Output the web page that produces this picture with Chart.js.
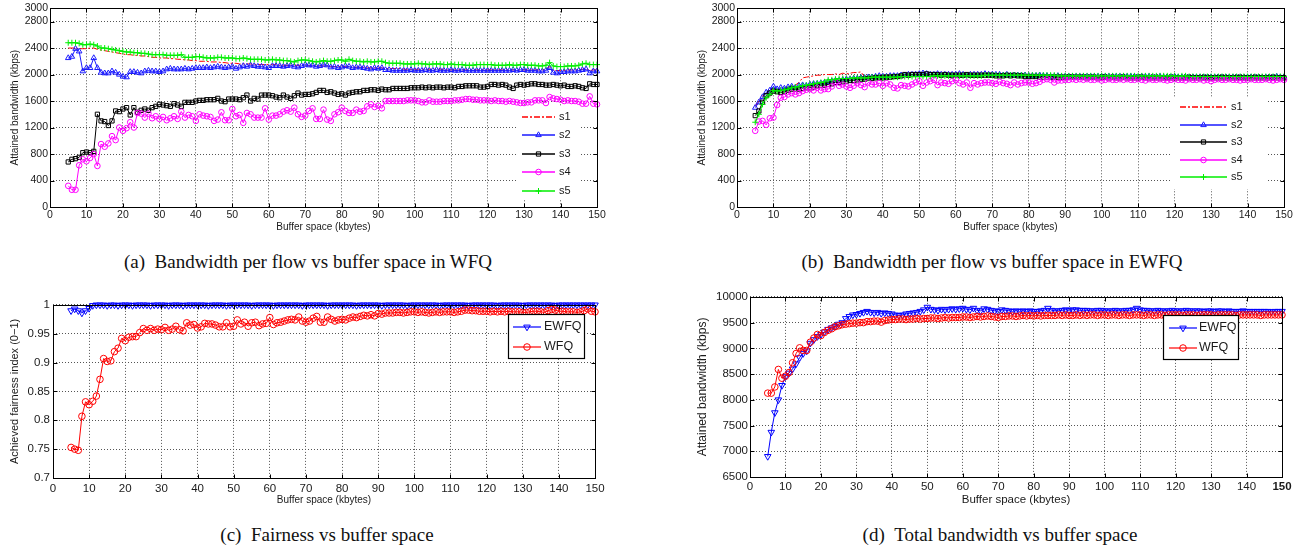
<!DOCTYPE html>
<html><head><meta charset="utf-8">
<script src="https://cdn.jsdelivr.net/npm/chart.js@4.4.1/dist/chart.umd.min.js"></script>
<style>
html,body{margin:0;padding:0;background:#fff;}
body{width:1302px;height:545px;position:relative;overflow:hidden;}
canvas{position:absolute;}
.cap{position:absolute;font-family:'Liberation Serif','Times New Roman',serif;font-size:19px;color:#111;white-space:nowrap;transform:translateX(-50%);line-height:1;}
</style></head><body>
<canvas id="ca" width="610" height="235" style="left:0px;top:0px;width:610px;height:235px"></canvas>
<canvas id="cb" width="610" height="235" style="left:687px;top:0px;width:610px;height:235px"></canvas>
<canvas id="cc" width="610" height="211" style="left:0px;top:295px;width:610px;height:211px"></canvas>
<canvas id="cd" width="612" height="220" style="left:690px;top:288px;width:612px;height:220px"></canvas>
<div class="cap" style="left:308px;top:252px">(a)&ensp;Bandwidth per flow vs buffer space in WFQ</div>
<div class="cap" style="left:992px;top:252px">(b)&ensp;Bandwidth per flow vs buffer space in EWFQ</div>
<div class="cap" style="left:327px;top:525px">(c)&ensp;Fairness vs buffer space</div>
<div class="cap" style="left:1000px;top:525px">(d)&ensp;Total bandwidth vs buffer space</div>
<script>
// ---------- DATA ----------
const bufferSpace = [5,6,7,8,9,10,11,12,13,14,15,16,17,18,19,20,21,22,23,24,25,26,27,28,29,30,31,32,33,34,35,36,37,38,39,40,41,42,43,44,45,46,47,48,49,50,51,52,53,54,55,56,57,58,59,60,61,62,63,64,65,66,67,68,69,70,71,72,73,74,75,76,77,78,79,80,81,82,83,84,85,86,87,88,89,90,91,92,93,94,95,96,97,98,99,100,101,102,103,104,105,106,107,108,109,110,111,112,113,114,115,116,117,118,119,120,121,122,123,124,125,126,127,128,129,130,131,132,133,134,135,136,137,138,139,140,141,142,143,144,145,146,147,148,149,150];
const xTicks = [0,10,20,30,40,50,60,70,80,90,100,110,120,130,140,150];
const yTicksFlow = [0,400,800,1200,1600,2000,2400,2800,3000];
const yTicksFair = [0.7,0.75,0.8,0.85,0.9,0.95,1];
const yTicksFairLabels = ['0.7','0.75','0.8','0.85','0.9','0.95','1'];
const yTicksTotal = [6500,7000,7500,8000,8500,9000,9500,10000];

// (a) WFQ per-flow bandwidth (kbps)
const wfqS1 = [2400,2400,2400,2390,2390,2390,2400,2400,2380,2370,
2360,2350,2340,2330,2320,2310,2300,2300,2290,2290,
2280,2280,2270,2260,2260,2250,2250,2250,2240,2240,
2230,2230,2220,2220,2210,2210,2200,2200,2200,2190,
2190,2190,2180,2180,2170,2170,2170,2160,2160,2160,
2160,2150,2150,2150,2150,2150,2150,2150,2140,2140,
2140,2140,2140,2140,2140,2140,2130,2130,2130,2130,
2130,2130,2120,2120,2120,2120,2120,2110,2110,2110,
2110,2110,2100,2100,2100,2100,2100,2090,2090,2090,
2090,2090,2080,2080,2080,2080,2080,2080,2080,2080,
2080,2080,2080,2080,2070,2070,2070,2070,2070,2070,
2070,2070,2070,2070,2070,2070,2070,2070,2070,2070,
2070,2070,2070,2070,2070,2070,2070,2070,2070,2070,
2070,2080,2120,2060,2060,2060,2060,2070,2070,2070,
2070,2080,2090,2060,2070,2070];
const wfqS2 = [2250,2270,2390,2350,2050,2100,2100,2250,2100,2030,
2020,2020,2050,2030,2000,1970,1960,2040,2040,2030,
2020,2050,2060,2050,2050,2040,2050,2080,2090,2080,
2080,2080,2090,2080,2090,2100,2100,2100,2110,2100,
2110,2120,2110,2100,2110,2120,2090,2110,2130,2120,
2140,2130,2120,2120,2110,2100,2130,2130,2130,2120,
2130,2140,2120,2110,2130,2150,2140,2140,2120,2130,
2150,2140,2110,2120,2100,2110,2130,2120,2100,2110,
2110,2100,2090,2080,2100,2090,2100,2070,2070,2060,
2060,2060,2060,2060,2070,2060,2060,2060,2070,2060,
2060,2070,2060,2060,2060,2070,2060,2060,2070,2060,
2060,2060,2060,2060,2060,2060,2060,2060,2060,2060,
2060,2060,2070,2060,2070,2070,2060,2060,2060,2050,
2050,2060,2100,2030,2020,2040,2040,2050,2050,2050,
2060,2070,2080,2020,2050,2050];
const wfqS3 = [680,720,730,750,820,830,820,840,1400,1300,
1290,1230,1300,1450,1440,1480,1500,1390,1500,1430,
1460,1480,1460,1500,1520,1550,1540,1530,1520,1560,
1540,1520,1580,1580,1580,1600,1610,1610,1620,1620,
1620,1640,1600,1590,1630,1630,1630,1620,1650,1690,
1600,1640,1630,1690,1690,1690,1680,1660,1650,1690,
1660,1640,1680,1720,1690,1700,1700,1710,1730,1760,
1760,1730,1740,1720,1700,1710,1690,1720,1730,1740,
1740,1760,1760,1770,1770,1760,1780,1770,1770,1790,
1790,1790,1790,1790,1800,1800,1800,1810,1800,1810,
1800,1810,1810,1800,1810,1810,1800,1820,1820,1830,
1830,1830,1830,1810,1810,1820,1850,1850,1840,1850,
1840,1810,1790,1840,1850,1840,1850,1860,1860,1850,
1850,1840,1840,1850,1840,1830,1840,1820,1820,1830,
1820,1800,1790,1860,1850,1850];
const wfqS4 = [320,260,260,630,720,690,740,800,620,950,
910,960,1070,1010,1200,1150,1190,1280,1200,1420,
1410,1350,1410,1340,1370,1330,1360,1310,1340,1370,
1330,1440,1350,1390,1370,1300,1400,1380,1370,1360,
1300,1320,1430,1310,1310,1480,1370,1390,1270,1420,
1400,1350,1350,1350,1490,1320,1380,1380,1400,1440,
1460,1440,1500,1400,1360,1380,1450,1490,1330,1330,
1470,1320,1300,1400,1430,1500,1450,1420,1420,1470,
1440,1450,1520,1550,1510,1530,1490,1600,1600,1600,
1600,1600,1600,1610,1610,1610,1600,1580,1580,1610,
1590,1590,1590,1600,1600,1600,1610,1610,1620,1630,
1630,1620,1620,1610,1610,1610,1600,1610,1600,1600,
1590,1600,1590,1580,1570,1570,1580,1580,1610,1610,
1610,1570,1660,1640,1630,1620,1600,1610,1600,1600,
1590,1560,1560,1670,1560,1550];
const wfqS5 = [2480,2480,2480,2470,2450,2450,2460,2450,2430,2400,
2400,2390,2380,2370,2360,2350,2340,2340,2330,2330,
2320,2320,2310,2300,2300,2300,2300,2290,2290,2290,
2290,2300,2260,2260,2260,2270,2270,2260,2250,2250,
2250,2260,2260,2250,2250,2250,2240,2240,2250,2240,
2230,2230,2230,2230,2220,2220,2230,2220,2220,2210,
2210,2200,2190,2210,2220,2220,2210,2200,2190,2200,
2210,2200,2200,2210,2220,2220,2200,2230,2210,2200,
2200,2190,2200,2190,2190,2200,2200,2180,2170,2170,
2170,2170,2160,2160,2160,2160,2170,2160,2160,2150,
2160,2160,2160,2150,2150,2160,2150,2150,2150,2140,
2140,2140,2150,2150,2150,2150,2150,2140,2140,2140,
2140,2150,2140,2140,2150,2150,2140,2140,2140,2130,
2130,2140,2180,2130,2120,2120,2120,2130,2130,2130,
2140,2160,2170,2150,2150,2150];

// (b) EWFQ per-flow bandwidth (kbps)
const ewfqS1 = [1520,1600,1680,1720,1760,1790,1770,1790,1790,1810,
1830,1840,1880,1950,1960,1970,1980,1990,1990,2000,
2000,2000,2010,2000,2020,2010,2020,2030,2030,2040,
1960,1970,1980,1980,1990,1990,1990,2000,1990,2000,
2000,2000,2000,2000,2010,2010,2000,2000,2000,2000,
2000,2000,2000,1990,2000,2000,1990,1990,2000,1990,
1990,1990,1990,1990,1990,1990,1990,1990,1990,1990,
1990,1990,1990,1980,1980,1980,1980,1980,1980,1980,
1980,1980,1980,1980,1980,1980,1980,1980,1980,1980,
1980,1980,1980,1970,1970,1970,1970,1970,1970,1970,
1970,1970,1970,1970,1970,1970,1970,1970,1970,1970,
1970,1970,1970,1970,1970,1970,1970,1970,1970,1970,
1960,1970,1960,1970,1960,1960,1960,1960,1970,1960,
1960,1960,1960,1960,1960,1960,1960,1960,1960,1960,
1960,1960,1960,1970,1960,1960];
const ewfqS2 = [1500,1580,1660,1730,1760,1820,1780,1800,1790,1810,
1820,1800,1830,1840,1830,1850,1860,1860,1870,1880,
1890,1900,1910,1910,1920,1930,1930,1940,1940,1950,
1950,1960,1960,1970,1980,1970,1970,1980,1980,1980,
1990,1990,2000,2000,2000,2010,2020,2010,2000,2000,
2010,2000,2000,2000,2000,2000,2010,2000,1990,2000,
2000,2000,2000,2010,2000,2000,2000,2000,1990,2000,
1990,1990,1990,1990,1990,1980,1980,1980,1990,1980,
1980,1970,1970,1980,1970,1970,1970,1970,1970,1970,
1970,1970,1970,1970,1970,1970,1970,1970,1970,1970,
1970,1970,1970,1970,1970,1960,1970,1970,1970,1960,
1960,1970,1960,1960,1960,1970,1960,1960,1960,1960,
1960,1960,1960,1960,1960,1960,1960,1960,1960,1960,
1960,1960,1960,1960,1950,1960,1960,1960,1960,1950,
1960,1960,1960,1970,1960,1960];
const ewfqS3 = [1380,1450,1580,1680,1720,1750,1740,1730,1740,1760,
1780,1780,1780,1790,1800,1800,1810,1830,1840,1840,
1850,1860,1880,1880,1890,1900,1910,1910,1920,1930,
1930,1940,1940,1950,1950,1950,1960,1960,1970,1970,
1980,2000,1990,2000,2000,2000,2000,2010,2000,2000,
2000,1990,2000,1990,1990,1990,1990,1990,2000,1990,
1990,1990,1990,1990,1990,1990,1980,1980,1980,1990,
1980,1990,1980,1980,1970,1970,1970,1970,1960,1960,
1960,1960,1960,1960,1960,1960,1960,1960,1960,1960,
1960,1950,1960,1960,1950,1960,1960,1950,1960,1950,
1950,1960,1950,1950,1950,1950,1960,1950,1950,1950,
1950,1950,1950,1950,1950,1950,1950,1950,1950,1950,
1950,1950,1950,1950,1950,1950,1950,1950,1950,1950,
1950,1950,1950,1950,1950,1950,1950,1950,1950,1950,
1950,1950,1950,1950,1950,1950];
const ewfqS4 = [1150,1290,1300,1240,1340,1350,1540,1650,1660,1700,
1720,1700,1720,1750,1770,1780,1760,1800,1760,1780,
1780,1820,1880,1830,1850,1820,1800,1830,1870,1840,
1810,1880,1850,1850,1870,1830,1870,1850,1800,1790,
1840,1830,1820,1850,1880,1900,1830,1880,1900,1920,
1840,1880,1870,1860,1900,1920,1870,1850,1880,1800,
1870,1850,1870,1880,1880,1870,1860,1890,1870,1860,
1840,1880,1850,1870,1880,1880,1860,1870,1890,1920,
1930,1920,1880,1910,1910,1920,1920,1930,1920,1930,
1920,1930,1920,1920,1930,1910,1920,1930,1920,1920,
1930,1920,1930,1920,1920,1930,1920,1910,1930,1920,
1920,1930,1920,1910,1920,1930,1920,1920,1910,1930,
1920,1920,1930,1910,1920,1900,1920,1930,1920,1920,
1930,1920,1920,1910,1920,1920,1930,1920,1920,1920,
1930,1920,1910,1920,1930,1920];
const ewfqS5 = [1280,1400,1550,1650,1700,1760,1750,1760,1770,1780,
1800,1810,1820,1830,1840,1850,1860,1870,1880,1890,
1920,1920,1930,1940,1940,1940,1940,1950,1950,1950,
1950,1950,1960,1960,1960,1960,1960,1960,1960,1960,
1970,1970,1970,1970,1970,1970,1970,1970,1970,1980,
1980,1980,1980,1980,1980,1980,1980,1980,1980,1980,
1980,1980,1980,1990,1990,1990,1990,1990,1990,1990,
1990,1990,1990,1990,1990,1990,1990,1990,1990,1990,
1990,1990,1990,1980,1980,1980,1980,1980,1980,1980,
1980,1980,1980,1980,1980,1980,1980,1980,1980,1980,
1980,1980,1980,1980,1980,1980,1980,1980,1980,1980,
1980,1980,1980,1980,1980,1980,1970,1980,1980,1970,
1970,1970,1970,1970,1970,1970,1970,1970,1970,1970,
1970,1970,1970,1970,1970,1970,1970,1970,1970,1970,
1970,1970,1970,1970,1970,1970];

// (c) fairness index
const fairEWFQ = [0.990,0.993,0.990,0.986,0.990,0.994,0.999,1,1,1,
0.999,1,1,0.999,1,1,1,0.999,1,1,
1,1,0.999,1,1,1,1,0.999,1,1,
1,0.999,1,1,1,1,1,1,0.999,1,
1,1,1,0.999,1,1,1,1,1,1,
0.999,1,1,1,1,1,0.999,1,1,1,
1,1,1,1,0.999,1,1,1,1,1,
1,0.999,1,1,1,1,1,1,1,0.999,
1,1,1,1,1,1,0.999,1,1,1,
1,1,1,0.999,1,1,1,1,1,1,
1,1,0.999,1,1,1,1,1,1,1,
0.999,1,1,1,1,1,1,1,0.999,1,
1,1,1,1,1,0.999,1,1,1,1,
1,1,1,1,0.999,1,1,1,1,1,
1,1,1,1,1,1];
const fairWFQ = [0.753,0.750,0.748,0.807,0.832,0.827,0.833,0.842,0.871,0.907,
0.902,0.903,0.919,0.925,0.942,0.938,0.944,0.945,0.945,0.952,
0.959,0.956,0.959,0.956,0.958,0.957,0.961,0.956,0.958,0.963,
0.957,0.955,0.969,0.965,0.966,0.960,0.962,0.968,0.967,0.967,
0.965,0.962,0.962,0.969,0.962,0.963,0.974,0.967,0.970,0.963,
0.969,0.970,0.964,0.967,0.968,0.978,0.966,0.969,0.970,0.972,
0.974,0.975,0.974,0.979,0.972,0.970,0.972,0.977,0.980,0.970,
0.970,0.979,0.975,0.972,0.974,0.975,0.974,0.977,0.979,0.978,
0.980,0.982,0.981,0.983,0.981,0.985,0.984,0.986,0.986,0.986,
0.987,0.987,0.986,0.987,0.988,0.988,0.987,0.988,0.987,0.986,
0.987,0.988,0.987,0.988,0.988,0.988,0.987,0.988,0.989,0.991,
0.991,0.990,0.990,0.989,0.989,0.989,0.988,0.989,0.988,0.989,
0.988,0.989,0.988,0.988,0.988,0.987,0.987,0.988,0.989,0.989,
0.988,0.987,0.990,0.992,0.991,0.989,0.989,0.988,0.988,0.988,
0.987,0.988,0.990,0.993,0.989,0.988];

// (d) total bandwidth (kbps)
const totalEWFQ = [6900,7370,7750,8000,8280,8450,8520,8600,8700,8820,
8900,8950,9100,9170,9230,9270,9320,9370,9400,9430,
9470,9500,9580,9620,9650,9660,9680,9700,9720,9700,
9690,9700,9680,9690,9680,9670,9650,9640,9650,9670,
9680,9690,9700,9720,9750,9800,9760,9750,9740,9760,
9750,9760,9770,9760,9770,9780,9760,9750,9780,9740,
9730,9770,9760,9740,9730,9720,9750,9740,9730,9720,
9730,9720,9730,9720,9730,9720,9720,9730,9740,9780,
9740,9730,9730,9740,9750,9740,9750,9750,9740,9740,
9740,9730,9730,9740,9740,9730,9730,9730,9740,9730,
9730,9740,9740,9750,9780,9750,9740,9740,9730,9730,
9740,9730,9730,9730,9740,9730,9730,9730,9740,9730,
9730,9730,9730,9720,9730,9730,9720,9730,9730,9720,
9730,9720,9720,9720,9730,9720,9720,9720,9720,9720,
9720,9720,9710,9720,9720,9720];
const totalWFQ = [8130,8130,8250,8590,8420,8460,8530,8720,8900,9010,
8960,8960,9120,9200,9270,9250,9310,9350,9380,9420,
9440,9460,9470,9480,9490,9490,9500,9500,9520,9520,
9530,9530,9510,9540,9550,9560,9560,9570,9570,9560,
9570,9570,9580,9570,9580,9580,9590,9590,9580,9590,
9600,9590,9600,9600,9600,9610,9610,9600,9610,9620,
9610,9620,9630,9620,9610,9600,9620,9620,9630,9630,
9620,9630,9640,9630,9640,9630,9640,9630,9640,9640,
9640,9640,9650,9640,9650,9640,9640,9650,9640,9650,
9640,9650,9650,9640,9650,9650,9640,9650,9650,9640,
9650,9650,9640,9650,9650,9650,9640,9650,9650,9640,
9650,9650,9640,9650,9650,9650,9650,9640,9650,9650,
9650,9640,9650,9650,9650,9650,9640,9650,9650,9650,
9650,9650,9640,9650,9650,9650,9650,9650,9650,9640,
9650,9650,9650,9650,9650,9650];

// ---------- RENDERING ----------
const SANS = "'Liberation Sans', Arial, Helvetica, sans-serif";
const GRID = '#555';
const TXT = '#1a1a1a';

function drawMarker(ctx, style, x, y, r, rot, color) {
  ctx.save();
  ctx.strokeStyle = color; ctx.lineWidth = 1; ctx.setLineDash([]);
  ctx.translate(x, y); ctx.rotate((rot || 0) * Math.PI / 180);
  ctx.beginPath();
  if (style === 'triangle') {
    for (let k = 0; k < 3; k++) {
      const a = k * 2 * Math.PI / 3;
      const px = Math.sin(a) * r, py = -Math.cos(a) * r;
      k === 0 ? ctx.moveTo(px, py) : ctx.lineTo(px, py);
    }
    ctx.closePath();
  } else if (style === 'rect') {
    const s = r * Math.SQRT1_2; ctx.rect(-s, -s, 2 * s, 2 * s);
  } else if (style === 'circle') {
    ctx.arc(0, 0, r, 0, Math.PI * 2);
  } else if (style === 'cross') {
    ctx.moveTo(-r, 0); ctx.lineTo(r, 0); ctx.moveTo(0, -r); ctx.lineTo(0, r);
  }
  ctx.stroke();
  ctx.restore();
}

const framePlugin = {
  id: 'frame',
  afterDatasetsDraw(chart) {
    const {ctx, chartArea: a, scales: {x, y}} = chart;
    const L = Math.round(a.left) + 0.5, R = Math.round(a.right) + 0.5;
    const T = Math.round(a.top) + 0.5, B = Math.round(a.bottom) + 0.5;
    ctx.save();
    ctx.strokeStyle = '#000'; ctx.lineWidth = 1; ctx.setLineDash([]);
    ctx.strokeRect(L, T, R - L, B - T);
    ctx.beginPath();
    const tl = 4;
    x.ticks.forEach(t => {
      const p = Math.round(x.getPixelForValue(t.value)) + 0.5;
      ctx.moveTo(p, B); ctx.lineTo(p, B - tl);
      ctx.moveTo(p, T); ctx.lineTo(p, T + tl);
    });
    y.ticks.forEach(t => {
      const p = Math.round(y.getPixelForValue(t.value)) + 0.5;
      ctx.moveTo(L, p); ctx.lineTo(L + tl, p);
      ctx.moveTo(R, p); ctx.lineTo(R - tl, p);
    });
    ctx.stroke();
    ctx.restore();
  }
};

const legendPlugin = {
  id: 'insideLegend',
  afterDraw(chart, args, o) {
    if (!o || !o.box) return;
    const ctx = chart.ctx;
    ctx.save();
    ctx.fillStyle = '#fff';
    ctx.fillRect(o.box[0], o.box[1], o.box[2], o.box[3]);
    if (o.border) {
      ctx.strokeStyle = '#000'; ctx.lineWidth = 1.2; ctx.setLineDash([]);
      ctx.strokeRect(Math.round(o.box[0]) + 0.5, Math.round(o.box[1]) + 0.5, Math.round(o.box[2]), Math.round(o.box[3]));
    }
    o.entries.forEach((s, i) => {
      const yy = Math.round(o.y0 + i * o.dy);
      ctx.save();
      ctx.strokeStyle = s.color; ctx.lineWidth = o.lw || 1.5;
      ctx.setLineDash(s.dash || []);
      ctx.beginPath(); ctx.moveTo(o.lx0, yy); ctx.lineTo(o.lx1, yy); ctx.stroke();
      ctx.restore();
      if (s.marker) drawMarker(ctx, s.marker, (o.lx0 + o.lx1) / 2, yy, s.r, s.rot, s.color);
      ctx.fillStyle = TXT; ctx.font = o.font; ctx.textBaseline = 'middle'; ctx.textAlign = 'left';
      ctx.fillText(s.label, o.tx, yy);
    });
    ctx.restore();
  }
};

function makeChart(id, c) {
  c.legend.entries = c.series;
  return new Chart(document.getElementById(id), {
    type: 'line',
    data: {
      datasets: c.series.map((s, i) => ({
        label: s.label,
        data: bufferSpace.map((x, k) => ({x: x, y: s.values[k]})),
        borderColor: s.color,
        backgroundColor: 'rgba(0,0,0,0)',
        borderWidth: 1,
        borderDash: s.dash || [],
        pointStyle: s.marker || 'circle',
        pointRadius: s.marker ? s.r : 0,
        pointRotation: s.rot || 0,
        pointBorderWidth: 1,
        pointBorderColor: s.color,
        pointBackgroundColor: 'rgba(0,0,0,0)',
        pointHoverRadius: 0,
        tension: 0, fill: false, clip: false,
        order: -i
      }))
    },
    options: {
      responsive: false, animation: false, devicePixelRatio: 1, events: [],
      layout: {padding: c.padding},
      plugins: {legend: {display: false}, tooltip: {enabled: false}, insideLegend: c.legend},
      scales: {
        x: {
          type: 'linear', min: 0, max: 150,
          afterBuildTicks: s => { s.ticks = xTicks.map(v => ({value: v})); },
          afterFit: s => { s.height = c.xH; },
          grid: {color: GRID, lineWidth: 1, drawTicks: false},
          border: {display: false, dash: [1, 2]},
          ticks: {autoSkip: false, maxRotation: 0, padding: c.xPad, color: TXT,
            font: ctx => ({family: SANS, size: c.tickSize, weight: (c.boldLast && ctx.tick && ctx.tick.value === 150) ? 'bold' : 'normal'}),
            callback: v => String(v)},
          title: {display: true, text: 'Buffer space (kbytes)', color: TXT, font: {family: SANS, size: c.xTitleSize}, padding: {top: 0, bottom: c.xTitlePad}}
        },
        y: {
          type: 'linear', min: c.yTicks[0], max: c.yTicks[c.yTicks.length - 1],
          afterBuildTicks: s => { s.ticks = c.yTicks.map(v => ({value: v})); },
          afterFit: s => { s.width = c.yW; },
          grid: {color: GRID, lineWidth: 1, drawTicks: false},
          border: {display: false, dash: [1, 2]},
          ticks: {autoSkip: false, padding: c.yPad, color: TXT, font: {family: SANS, size: c.tickSize},
            callback: v => { const k = c.yTicks.indexOf(v); return c.yLabels ? c.yLabels[k] : String(v); }},
          title: {display: true, text: c.yTitle, color: TXT, font: {family: SANS, size: c.yTitleSize}, padding: {top: c.yTitlePad, bottom: 0}}
        }
      }
    },
    plugins: [framePlugin, legendPlugin]
  });
}

const flowSeries = (s1, s2, s3, s4, s5) => [
  {label: 's1', values: s1, color: '#ff0000', dash: [6, 2, 2, 2]},
  {label: 's2', values: s2, color: '#1a1aff', marker: 'triangle', r: 3.2},
  {label: 's3', values: s3, color: '#000000', marker: 'rect', r: 3},
  {label: 's4', values: s4, color: '#ff00ff', marker: 'circle', r: 2.8},
  {label: 's5', values: s5, color: '#00ee00', marker: 'cross', r: 3}
];

makeChart('ca', {
  series: flowSeries(wfqS1, wfqS2, wfqS3, wfqS4, wfqS5),
  padding: {left: 0, right: 13, top: 7, bottom: 0},
  yW: 50, xH: 28, xPad: 2, yPad: 2, tickSize: 10.5, xTitleSize: 10, yTitleSize: 10,
  xTitlePad: 2, yTitlePad: 9, yTicks: yTicksFlow, yTitle: 'Attained bandwidth (kbps)',
  legend: {box: [517, 107, 64, 92], border: false, y0: 117, dy: 18.4, lx0: 522, lx1: 555, tx: 559, lw: 1.6, font: '11px ' + SANS}
});
makeChart('cb', {
  series: flowSeries(ewfqS1, ewfqS2, ewfqS3, ewfqS4, ewfqS5),
  padding: {left: 0, right: 13, top: 7, bottom: 0},
  yW: 50, xH: 28, xPad: 2, yPad: 2, tickSize: 10.5, xTitleSize: 10, yTitleSize: 10,
  xTitlePad: 2, yTitlePad: 9, yTicks: yTicksFlow, yTitle: 'Attained bandwidth (kbps)',
  legend: {box: [483, 97, 98, 92], border: false, y0: 107, dy: 17.5, lx0: 493, lx1: 540, tx: 544, lw: 1.6, font: '11px ' + SANS}
});
makeChart('cc', {
  series: [
    {label: 'EWFQ', values: fairEWFQ, color: '#0000ff', marker: 'triangle', rot: 180, r: 3.8},
    {label: 'WFQ', values: fairWFQ, color: '#ff0000', marker: 'circle', r: 3.3}
  ],
  padding: {left: 0, right: 15, top: 8, bottom: 0},
  yW: 53, xH: 28, xPad: 4, yPad: 3, tickSize: 11.5, xTitleSize: 10, yTitleSize: 11,
  xTitlePad: 0, yTitlePad: 8, yTicks: yTicksFair, yLabels: yTicksFairLabels, yTitle: 'Achieved fairness index (0\u22121)',
  legend: {box: [508, 19, 76, 44], border: true, y0: 31.7, dy: 20, lx0: 513, lx1: 541, tx: 544, lw: 1.2, font: '12.5px ' + SANS}
});
makeChart('cd', {
  series: [
    {label: 'EWFQ', values: totalEWFQ, color: '#0000ff', marker: 'triangle', rot: 180, r: 3.8},
    {label: 'WFQ', values: totalWFQ, color: '#ff0000', marker: 'circle', r: 3.3}
  ],
  padding: {left: 0, right: 20, top: 7, bottom: 0},
  yW: 60, xH: 31, xPad: 3, yPad: 2, tickSize: 11.5, xTitleSize: 11.5, yTitleSize: 12,
  xTitlePad: 1, yTitlePad: 5, yTicks: yTicksTotal, boldLast: true, yTitle: 'Attained bandwidth (kbps)',
  legend: {box: [473, 27, 75, 44], border: true, y0: 40.3, dy: 20, lx0: 479, lx1: 507, tx: 509, lw: 1.2, font: '12.5px ' + SANS}
});
</script>
</body></html>
